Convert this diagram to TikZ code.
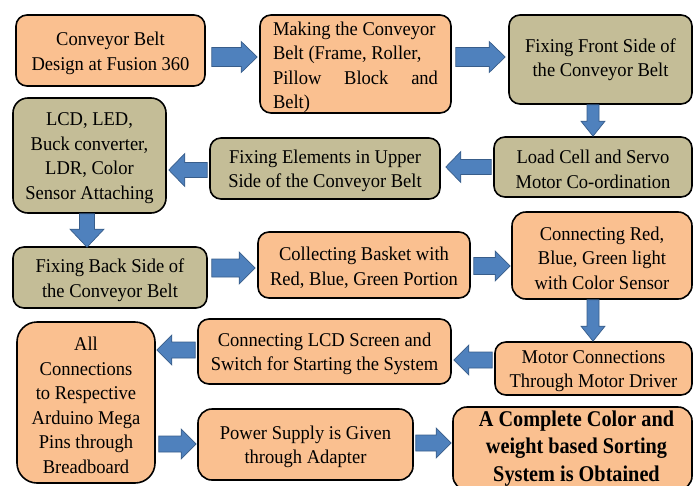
\documentclass[tikz,border=0pt]{standalone}
\usepackage{fontspec}
\setmainfont{Liberation Serif}[FakeStretch=0.95]
\newfontfamily\condserif{Liberation Serif}[FakeStretch=0.9]
\usetikzlibrary{calc}
\definecolor{peach}{HTML}{FAC090}
\definecolor{tanfill}{HTML}{C4BD97}
\definecolor{ablue}{HTML}{4F81BD}
\definecolor{ablueline}{HTML}{385D8A}
\tikzset{
  box/.style={draw=black, line width=1.6pt, rounded corners=11pt, inner sep=0pt},
  peachbox/.style={box, fill=peach},
  tanbox/.style={box, fill=tanfill},
  boxtext/.style={inner sep=0pt, align=center, font=\fontsize{19.5}{24.5}\selectfont},
  bigtext/.style={boxtext, font=\condserif\bfseries\fontsize{22.5}{27.5}\selectfont},
  barrow/.style={fill=ablue, draw=ablueline, line width=0.7pt, line join=miter},
}
% #1 name, #2 box style, #3 x1, #4 y1, #5 x2, #6 y2, #7 text style, #8 text offset x,y, #9 text
\newcommand\flowbox[9]{%
  \node[#2, minimum width={#5-#3}, minimum height={#6-#4}] (#1) at ({(#3+#5)/2},{(#4+#6)/2}) {};
  \node[#7] (#1t) at ($(#1.center)+(#8)$) {#9};}
% #1 half shaft, #2 half head, #3 head length, #4 start, #5 end
\newcommand\blockarrow[5]{%
  \coordinate (hb) at ($#5!#3!#4$);
  \draw[barrow] ($#4!#1!90:#5$) -- ($(hb)!#1!-90:#4$) -- ($(hb)!#2!-90:#4$) -- #5
    -- ($(hb)!#2!90:#4$) -- ($(hb)!#1!90:#4$) -- ($#4!#1!-90:#5$) -- cycle;}
\begin{document}
\begin{tikzpicture}[x=1pt,y=-1pt]
\useasboundingbox (0,0) rectangle (694,485);
\clip (0,0) rectangle (694,485);
\flowbox{b1}{peachbox}{16}{15}{205}{86}{boxtext}{0,3}{Conveyor Belt\\Design at Fusion 360}
\flowbox{b2}{peachbox}{260}{15}{451}{113}{boxtext,align=left}{0,3.5}{Making the Conveyor\\Belt (Frame, Roller,\\\makebox[165pt][s]{Pillow Block and}\\Belt)}
\flowbox{b3}{tanbox}{509}{15}{692}{104}{boxtext}{0,0}{Fixing Front Side of\\the Conveyor Belt}
\flowbox{b4}{tanbox}{494}{137}{692}{197}{boxtext}{0,2.5}{Load Cell and Servo\\Motor Co-ordination}
\flowbox{b5}{tanbox}{210}{138}{440}{199}{boxtext}{0,2.5}{Fixing Elements in Upper\\Side of the Conveyor Belt}
\flowbox{b6}{tanbox,rounded corners=15pt}{13}{98}{166}{213}{boxtext}{0,2.5}{LCD, LED,\\Buck converter,\\LDR, Color\\Sensor Attaching}
\flowbox{b7}{tanbox}{13}{247}{207}{308}{boxtext}{0,2.5}{Fixing Back Side of\\the Conveyor Belt}
\flowbox{b8}{peachbox}{258}{232}{470}{298}{boxtext}{0,2.5}{Collecting Basket with\\Red, Blue, Green Portion}
\flowbox{b9}{peachbox,rounded corners=14pt}{512}{212}{692}{299}{boxtext}{0,2.5}{Connecting Red,\\Blue, Green light\\with Color Sensor}
\flowbox{b10}{peachbox}{495}{342}{692}{395}{boxtext}{0,2.5}{Motor Connections\\Through Motor Driver}
\flowbox{b11}{peachbox}{198}{319}{451}{384}{boxtext}{0,2.5}{Connecting LCD Screen and\\Switch for Starting the System}
\flowbox{b12}{peachbox,rounded corners=20pt}{17}{322}{155}{483}{boxtext}{0,3}{All\\Connections\\to Respective\\Arduino Mega\\Pins through\\Breadboard}
\flowbox{b13}{peachbox,rounded corners=14pt}{198}{409}{413}{480}{boxtext}{0,2.5}{Power Supply is Given\\through Adapter}
\flowbox{b14}{peachbox,rounded corners=14pt}{453}{407}{692}{490}{bigtext}{4,0}{A Complete Color and\\weight based Sorting\\System is Obtained}
% arrow end points
\coordinate (a1s) at ($(b1.east |- 0,57)+(6,0)$);
\coordinate (a1e) at ($(b2.west |- 0,57)+(-2,0)$);
\coordinate (a2s) at ($(b2.east |- 0,57)+(4,0)$);
\coordinate (a2e) at ($(b3.west |- 0,57)+(-3,0)$);
\coordinate (a3s) at (b3.south -| 593,0);
\coordinate (a3e) at (b4.north -| 593,0);
\coordinate (a4s) at ($(b4.west |- 0,167)+(-2,0)$);
\coordinate (a4e) at ($(b5.east |- 0,167)+(5,0)$);
\coordinate (a5s) at ($(b5.west |- 0,170)+(-2,0)$);
\coordinate (a5e) at ($(b6.east |- 0,170)+(2,0)$);
\coordinate (a6s) at (b6.south -| 87,0);
\coordinate (a6e) at ($(b7.north -| 87,0)+(0,1)$);
\coordinate (a7s) at ($(b7.east |- 0,268)+(4,0)$);
\coordinate (a7e) at ($(b8.west |- 0,268)+(-2,0)$);
\coordinate (a8s) at ($(b8.east |- 0,266)+(3,0)$);
\coordinate (a8e) at ($(b9.west |- 0,266)+(-1,0)$);
\coordinate (a9s) at (b9.south -| 593,0);
\coordinate (a9e) at (b10.north -| 593,0);
\coordinate (a10s) at ($(b10.west |- 0,360)+(-2,0)$);
\coordinate (a10e) at ($(b11.east |- 0,360)+(2,0)$);
\coordinate (a11s) at ($(b11.west |- 0,350)+(-2,0)$);
\coordinate (a11e) at ($(b12.east |- 0,350)+(1,0)$);
\coordinate (a12s) at ($(b12.east |- 0,444)+(3,0)$);
\coordinate (a12e) at ($(b13.west |- 0,444)+(-1,0)$);
\coordinate (a13s) at ($(b13.east |- 0,443)+(2,0)$);
\coordinate (a13e) at ($(b14.west |- 0,443)+(-1,0)$);
\blockarrow{9.5pt}{15.5pt}{16pt}{(a1s)}{(a1e)}
\blockarrow{9.5pt}{15.5pt}{16pt}{(a2s)}{(a2e)}
\blockarrow{6pt}{12pt}{15pt}{(a3s)}{(a3e)}
\blockarrow{7.5pt}{15.5pt}{15pt}{(a4s)}{(a4e)}
\blockarrow{7.5pt}{16.5pt}{16pt}{(a5s)}{(a5e)}
\blockarrow{7.5pt}{17pt}{18pt}{(a6s)}{(a6e)}
\blockarrow{9pt}{16pt}{16pt}{(a7s)}{(a7e)}
\blockarrow{8.5pt}{15pt}{15pt}{(a8s)}{(a8e)}
\blockarrow{6pt}{12pt}{15pt}{(a9s)}{(a9e)}
\blockarrow{8pt}{15pt}{15pt}{(a10s)}{(a10e)}
\blockarrow{8pt}{15pt}{15pt}{(a11s)}{(a11e)}
\blockarrow{8pt}{15pt}{15pt}{(a12s)}{(a12e)}
\blockarrow{8pt}{15pt}{15pt}{(a13s)}{(a13e)}
\end{tikzpicture}
\end{document}
